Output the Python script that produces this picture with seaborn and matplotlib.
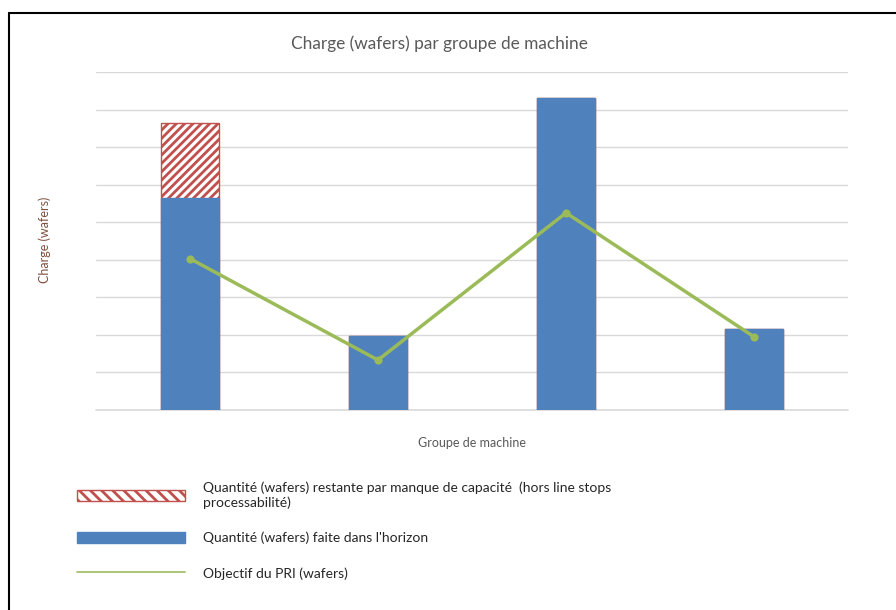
import matplotlib
matplotlib.use("Agg")
import matplotlib.pyplot as plt
import seaborn as sns
import pandas as pd
from matplotlib.patches import Patch
from matplotlib.lines import Line2D

# data (in gridline units)
groupes = ["G1", "G2", "G3", "G4"]
faite = [5.65, 1.97, 8.32, 2.16]
restante = [2.0, 0.0, 0.0, 0.0]
objectif = [4.03, 1.33, 5.25, 1.95]

blue = "#4F81BD"
red = "#C0504D"
green = "#9BBB59"

df = pd.DataFrame({"groupe": groupes, "faite": faite, "restante": restante,
                   "objectif": objectif})
df["total"] = df["faite"] + df["restante"]

sns.set_style("white")
plt.rcParams["font.family"] = ["Lato", "DejaVu Sans"]
plt.rcParams["hatch.linewidth"] = 2.0

fig = plt.figure(figsize=(8.96, 6.10), dpi=100)
ax = fig.add_axes([96 / 896, 1 - 410 / 610, 752 / 896, 338 / 610])

# stacked bars: hatched total first, blue part on top
sns.barplot(data=df, x="groupe", y="total", color="white", width=0.305,
            edgecolor=red, hatch="////", linewidth=1.0, saturation=1,
            ax=ax, zorder=2)
sns.barplot(data=df, x="groupe", y="faite", color=blue, width=0.305,
            saturation=1, edgecolor=blue, linewidth=1.0, ax=ax, zorder=3)
sns.pointplot(data=df, x="groupe", y="objectif", color=green, markers="o",
              markersize=4, linewidth=2.5, ax=ax, zorder=4)

ax.set_xlim(-0.5, 3.5)
ax.set_ylim(0, 9)
ax.set_yticks(range(0, 10))
ax.yaxis.grid(True, color="#D9D9D9", linewidth=1)
ax.axhline(0, color="#D9D9D9", linewidth=1.2, zorder=1, clip_on=False)
ax.set_axisbelow(True)
ax.tick_params(left=False, bottom=False, labelleft=False, labelbottom=False)
sns.despine(ax=ax, left=True, bottom=True)
ax.set_xlabel("")
ax.set_ylabel("")

fig.text(0.49, 1 - 44 / 610, "Charge (wafers) par groupe de machine",
         ha="center", va="center", fontsize=12.4, color="#595959")
fig.text(472 / 896, 1 - 443 / 610, "Groupe de machine", ha="center",
         va="center", fontsize=9, color="#595959")
fig.text(45 / 896, 1 - 240 / 610, "Charge (wafers)", ha="center",
         va="center", rotation=90, fontsize=9, color="#7F4F3F")

handles = [
    Patch(facecolor="white", edgecolor=red, hatch="\\\\\\", linewidth=1.0),
    Patch(facecolor=blue, edgecolor=blue),
    Line2D([0], [0], color=green, linewidth=1.2),
]
labels = [
    "Quantité (wafers) restante par manque de capacité  (hors line stops\nprocessabilité)",
    "Quantité (wafers) faite dans l'horizon",
    "Objectif du PRI (wafers)",
]
fig.legend(handles, labels, loc="upper left",
           bbox_to_anchor=(64 / 896, 1 - 469 / 610), frameon=False,
           fontsize=10, handlelength=7.8, handleheight=0.9,
           handletextpad=1.3, labelspacing=1.65)

# figure border (top and left)
fig.add_artist(Line2D([9 / 896, 1], [1 - 13 / 610, 1 - 13 / 610],
                      color="black", linewidth=1.5))
fig.add_artist(Line2D([9 / 896, 9 / 896], [0, 1 - 13 / 610],
                      color="black", linewidth=1.5))

fig.savefig("out.png", dpi=100)
